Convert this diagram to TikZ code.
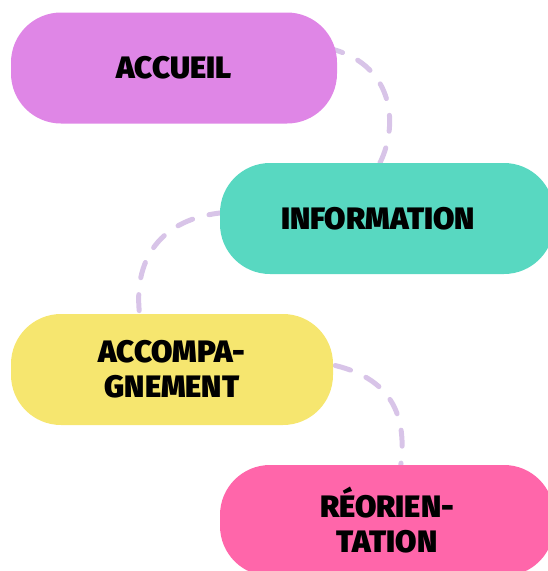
\documentclass[tikz,border=0pt]{standalone}
\usepackage{fontspec}
\newfontfamily\blobfont{Fira Sans}[UprightFont=* Black]
\usetikzlibrary{backgrounds}
\definecolor{cviolet}{RGB}{223,134,230}
\definecolor{cteal}{RGB}{88,216,193}
\definecolor{cyellow}{RGB}{246,230,111}
\definecolor{cpink}{RGB}{255,102,170}
\definecolor{cdash}{RGB}{216,196,232}
\tikzset{
  blob/.style={rectangle, rounded corners=50pt, draw=none, inner sep=0pt,
    minimum height=111pt, align=center, text=black,
    font=\blobfont\fontsize{31}{35}\selectfont},
  link/.style={draw=cdash, line width=5pt, line cap=round,
    dash pattern=on 16pt off 17pt}
}
\begin{document}
\begin{tikzpicture}[x=1pt,y=-1pt]
\useasboundingbox (0,0) rectangle (548,571);
\clip (0,0) rectangle (548,571);
\node[blob, fill=cviolet, minimum width=326pt] (accueil) at (174,68) {ACCUEIL};
\node[blob, fill=cteal, minimum width=334pt] (info) at (387,218.5) {INFORMATION\hspace*{18pt}};
\node[blob, fill=cyellow, minimum width=322pt] (accomp) at (172,369.5) {ACCOMPA-\\GNEMENT};
\node[blob, fill=cpink, minimum width=334pt] (reor) at (387,520.5) {RÉORIEN-\\TATION};
\coordinate (a1) at ([shift={(-10,-20)}]accueil.east);
\coordinate (b1) at ([shift={(-7,0)}]info.north);
\coordinate (b2) at ([shift={(5,-6)}]info.west);
\coordinate (c1) at ([shift={(-32,4)}]accomp.north);
\coordinate (c2) at ([shift={(2,-4)}]accomp.east);
\coordinate (d1) at ([shift={(13,6)}]reor.north);
\begin{scope}[on background layer]
\draw[link] (a1) .. controls (392,62) and (400,122) .. (b1);
\draw[link] (b2) .. controls (160,218) and (132,260) .. (c1);
\draw[link] (c2) .. controls (395,380) and (408,420) .. (d1);
\end{scope}
\end{tikzpicture}
\end{document}
